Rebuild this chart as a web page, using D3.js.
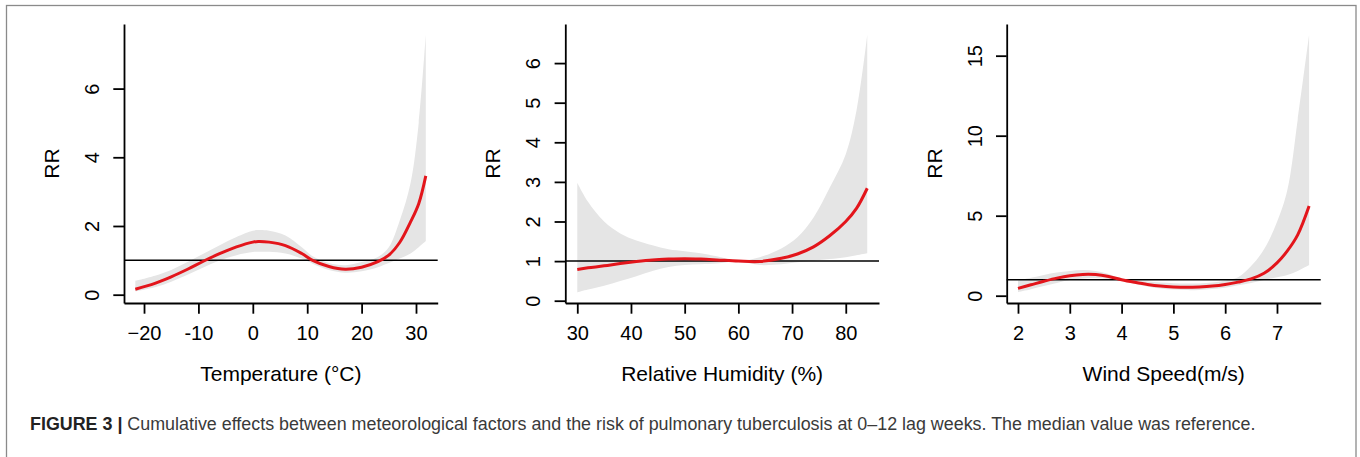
<head>
  <script src="https://cdnjs.cloudflare.com/ajax/libs/d3/7.8.5/d3.min.js"></script>
</head>
<style media="screen">
  body { margin: 0; background: #fff; }
  svg { font-family: "Liberation Sans", Arial, Helvetica, sans-serif; }
  .band { fill: #e5e5e5; stroke: none; }
  .line { fill: none; stroke: #e3151b; stroke-width: 3px; stroke-linejoin: round; }
  .ref { stroke: #000; stroke-width: 1.5px; }
  .axis path, .axis line { stroke: #000; stroke-width: 1.8px; }
  .axis text { font-family: "Liberation Sans", Arial, Helvetica, sans-serif; font-size: 20px; fill: #000; }
  .title { font-size: 21px; fill: #000; }
  .caption { fill: #3a3a3a; }
</style>
<body>
<script type="text/javascript">
// temperature
var tempX    = [-21.6, -18, -15, -12, -9, -6, -3, 0, 1, 3, 6, 9, 11, 14, 17, 20, 23, 25, 27, 29, 30.5, 31.8];
var tempRR   = [0.16, 0.33, 0.52, 0.74, 0.98, 1.2, 1.39, 1.53, 1.55, 1.53, 1.43, 1.2, 1.0, 0.82, 0.74, 0.8, 0.96, 1.15, 1.52, 2.12, 2.65, 3.46];
var tempLow  = [0.1, 0.22, 0.38, 0.58, 0.8, 1.0, 1.15, 1.24, 1.25, 1.25, 1.2, 1.05, 0.9, 0.72, 0.64, 0.68, 0.8, 0.92, 1.05, 1.2, 1.38, 1.56];
var tempHigh = [0.4, 0.55, 0.72, 0.95, 1.2, 1.45, 1.68, 1.86, 1.88, 1.86, 1.72, 1.38, 1.12, 0.92, 0.86, 0.95, 1.1, 1.38, 2.15, 3.25, 5.0, 7.56];
var tempTicks = [-20, -10, 0, 10, 20, 30];
var tempTickLabels = ["\u221220", "-10", "0", "10", "20", "30"];
var tempRRTicks = [0, 2, 4, 6];

// relative humidity
var humX    = [30, 32, 35, 38, 41, 44, 47, 50, 53, 56, 60, 64, 68, 71, 74, 77, 80, 82, 84];
var humRR   = [0.79, 0.83, 0.88, 0.94, 0.99, 1.03, 1.05, 1.06, 1.05, 1.03, 1.0, 0.99, 1.07, 1.18, 1.36, 1.64, 2.0, 2.33, 2.84];
var humLow  = [0.21, 0.28, 0.38, 0.5, 0.62, 0.75, 0.85, 0.9, 0.92, 0.94, 0.99, 0.9, 0.92, 0.97, 1.01, 1.05, 1.1, 1.15, 1.2];
var humHigh = [2.98, 2.5, 2.0, 1.7, 1.52, 1.4, 1.3, 1.25, 1.2, 1.12, 1.01, 1.1, 1.32, 1.6, 2.1, 2.85, 3.7, 4.8, 6.71];
var humTicks = [30, 40, 50, 60, 70, 80];
var humRRTicks = [0, 1, 2, 3, 4, 5, 6];

// wind speed
var windX    = [2.0, 2.25, 2.5, 2.75, 3.0, 3.25, 3.5, 3.75, 4.0, 4.25, 4.5, 4.75, 5.0, 5.25, 5.5, 5.75, 6.0, 6.25, 6.5, 6.75, 7.0, 7.2, 7.4, 7.62];
var windRR   = [0.46, 0.68, 0.9, 1.1, 1.25, 1.33, 1.32, 1.2, 1.0, 0.84, 0.7, 0.6, 0.55, 0.53, 0.55, 0.6, 0.7, 0.85, 1.05, 1.4, 2.05, 2.8, 3.8, 5.6];
var windLow  = [0.22, 0.4, 0.6, 0.8, 0.98, 1.08, 1.1, 1.05, 0.98, 0.75, 0.58, 0.45, 0.38, 0.35, 0.36, 0.42, 0.5, 0.65, 0.8, 0.98, 1.15, 1.3, 1.55, 1.92];
var windHigh = [0.95, 1.12, 1.3, 1.45, 1.55, 1.6, 1.55, 1.35, 1.02, 0.95, 0.88, 0.82, 0.78, 0.76, 0.77, 0.82, 0.95, 1.15, 1.85, 2.9, 4.6, 6.6, 11.0, 16.3];
var windTicks = [2, 3, 4, 5, 6, 7];
var windRRTicks = [0, 5, 10, 15];

var captionBold = "FIGURE 3 |";
var captionText = " Cumulative effects between meteorological factors and the risk of pulmonary tuberculosis at 0\u201312 lag weeks. The median value was reference.";

var plotTop = 24, plotBottom = 303;

var panels = [
  {x: tempX, rr: tempRR, lo: tempLow, hi: tempHigh, xTicks: tempTicks, xLabels: tempTickLabels, yTicks: tempRRTicks,
   title: "Temperature (\u00b0C)", left: 124, width: 313.7, xDomain: [-23.68, 33.99], yDomain: [-0.242, 7.88]},
  {x: humX, rr: humRR, lo: humLow, hi: humHigh, xTicks: humTicks, xLabels: null, yTicks: humRRTicks,
   title: "Relative Humidity (%)", left: 565.3, width: 313.7, xDomain: [27.77, 86.19], yDomain: [-0.058, 6.987]},
  {x: windX, rr: windRR, lo: windLow, hi: windHigh, xTicks: windTicks, xLabels: null, yTicks: windRRTicks,
   title: "Wind Speed(m/s)", left: 1006.7, width: 314, xDomain: [1.782, 7.844], yDomain: [-0.456, 16.98]}
];

var svg = d3.select("body").append("svg")
    .attr("width", 1360)
    .attr("height", 457);

// frame around the figure
svg.append("rect")
    .attr("x", 6.5).attr("y", 5.5)
    .attr("width", 1349.5).attr("height", 480)
    .attr("fill", "none")
    .attr("stroke", "#8a8a8a")
    .attr("stroke-width", 1.3);

panels.forEach(function(p) {
  var x = d3.scaleLinear().domain(p.xDomain).range([p.left, p.left + p.width]);
  var y = d3.scaleLinear().domain(p.yDomain).range([plotBottom, plotTop]);

  var pts = p.x.map(function(v, i) {
    return {x: v, rr: p.rr[i], lo: p.lo[i], hi: p.hi[i]};
  });

  var g = svg.append("g");

  g.append("path")
      .datum(pts)
      .attr("class", "band")
      .attr("d", d3.area()
        .curve(d3.curveCatmullRom)
        .x(function(d) { return x(d.x); })
        .y0(function(d) { return y(d.lo); })
        .y1(function(d) { return y(d.hi); }));

  g.append("line")
      .attr("class", "ref")
      .attr("x1", p.left).attr("x2", p.left + p.width)
      .attr("y1", y(1)).attr("y2", y(1));

  g.append("path")
      .datum(pts)
      .attr("class", "line")
      .attr("d", d3.line()
        .curve(d3.curveCatmullRom)
        .x(function(d) { return x(d.x); })
        .y(function(d) { return y(d.rr); }));

  // x axis
  g.append("g")
      .attr("class", "axis")
      .attr("transform", "translate(0," + plotBottom + ")")
      .call(d3.axisBottom(x)
        .tickValues(p.xTicks)
        .tickFormat(function(d, i) { return p.xLabels ? p.xLabels[i] : d; })
        .tickSizeInner(10.7).tickSizeOuter(0).tickPadding(12.3));

  // y axis, labels turned like R's default
  var ya = g.append("g")
      .attr("class", "axis")
      .attr("transform", "translate(" + p.left + ",0)")
      .call(d3.axisLeft(y)
        .tickValues(p.yTicks)
        .tickFormat("")
        .tickSizeInner(10.7).tickSizeOuter(0));

  ya.selectAll(".tick").append("text")
      .attr("transform", "rotate(-90)")
      .attr("x", 0)
      .attr("y", -25)
      .attr("text-anchor", "middle")
      .text(function(d) { return d; });

  g.append("text")
      .attr("class", "title")
      .attr("transform", "translate(" + (p.left - 65) + "," + ((plotTop + plotBottom) / 2) + ") rotate(-90)")
      .attr("text-anchor", "middle")
      .text("RR");

  g.append("text")
      .attr("class", "title")
      .attr("x", p.left + p.width / 2)
      .attr("y", 381)
      .attr("text-anchor", "middle")
      .text(p.title);
});

// caption, sized to span the same width as in the figure
var cap = svg.append("text")
    .attr("class", "caption")
    .attr("x", 30)
    .attr("y", 429.5)
    .style("font-size", "17px");
cap.append("tspan").style("font-weight", "bold").style("fill", "#222").text(captionBold);
cap.append("tspan").text(captionText);
var len = cap.node().getComputedTextLength();
cap.style("font-size", (17 * 1227 / len) + "px");
</script>
</body>
